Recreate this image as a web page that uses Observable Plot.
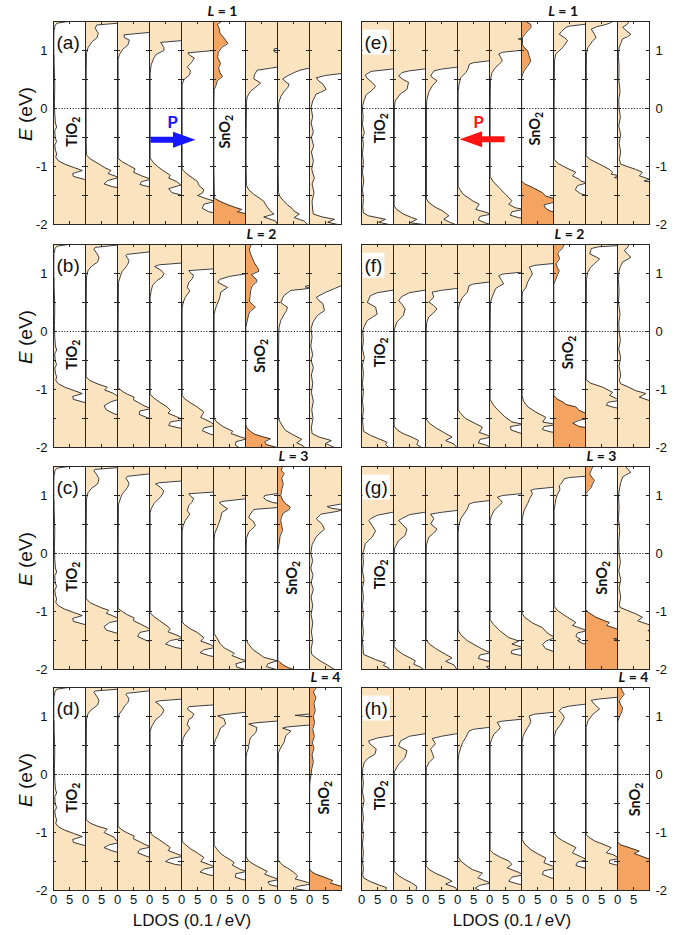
<!DOCTYPE html>
<html><head><meta charset="utf-8">
<script src="https://cdn.jsdelivr.net/npm/d3@7"></script>
<script src="https://cdn.jsdelivr.net/npm/@observablehq/plot@0.6"></script>
<style>
html,body{margin:0;padding:0;background:#fff;}
#root{position:relative;width:689px;height:935px;overflow:hidden;background:#fff;}
#root svg{position:absolute;}
</style></head><body><div id="root"></div>
<script>
// ---------- DATA: LDOS curves, each [E (eV), LDOS (0.1/eV)] ----------
const a1 = [[1.5,4.5],[1.47,1],[1.42,0.4],[1.2,0.2],[0.8,0.2],[0.4,0.4],[0.1,0.3],[-0.1,0.4],[-0.25,0.6],[-0.32,1],[-0.38,0.4],[-0.5,0.5],[-0.57,1],[-0.63,0.4],[-0.72,0.6],[-0.78,1],[-0.84,0.7],[-0.9,1.5],[-0.96,3.5],[-1.02,6.5],[-1.07,9],[-1.12,6],[-1.17,6.2],[-1.22,9.5],[-1.26,12],[-2,12]];
const a2 = [[1.5,12],[1.47,10],[1.44,3.5],[1.38,3],[1.3,4],[1.22,3.6],[1.15,2],[1.05,0.8],[0.95,0.3],[0.5,0.2],[0,0.2],[-0.5,0.2],[-0.8,0.3],[-0.87,1.5],[-0.95,4],[-1.02,6],[-1.07,8],[-1.12,7],[-1.19,10.5],[-1.24,7],[-1.3,5.8],[-1.35,8.5],[-1.38,12],[-2,12]];
const a3 = [[1.5,12],[1.32,12],[1.31,9.5],[1.27,2],[1.22,2.2],[1.18,3.7],[1.1,3.3],[1.02,1.6],[0.93,0.6],[0.85,0.2],[0,0.2],[-0.86,0.2],[-0.92,1.5],[-0.98,3.5],[-1.04,5.5],[-1.1,5],[-1.16,7.5],[-1.22,10.5],[-1.26,7.5],[-1.31,7],[-1.36,10.5],[-1.39,12],[-2,12]];
const a4 = [[1.5,12],[1.18,12],[1.17,10],[1.14,3.5],[1.05,4.5],[1.0,4.5],[0.93,2],[0.85,1.2],[0.75,0.5],[0.6,0.2],[0,0.2],[-0.85,0.2],[-0.92,1],[-1.0,2.5],[-1.08,4.5],[-1.15,6.5],[-1.2,6],[-1.26,8.5],[-1.32,9.8],[-1.38,6],[-1.45,7],[-1.5,10.5],[-1.53,12],[-2,12]];
const a5 = [[1.5,12],[1.01,12],[1.0,10],[0.96,2],[0.92,2.5],[0.87,4],[0.8,3.2],[0.72,1.8],[0.65,2.8],[0.58,2.5],[0.5,0.8],[0.42,0.2],[0,0.2],[-1.05,0.2],[-1.12,1.5],[-1.2,3.5],[-1.26,5],[-1.33,5.5],[-1.4,7],[-1.46,6.5],[-1.5,5],[-1.56,8],[-1.6,10.5],[-1.65,7],[-1.72,6.5],[-1.78,8.5],[-1.82,12],[-2,12]];
const a6 = [[1.5,2.5],[1.45,1.2],[1.38,1.8],[1.3,2],[1.2,3.5],[1.12,4.5],[1.05,2.5],[0.97,1.5],[0.88,1.3],[0.78,2.2],[0.7,1.6],[0.62,2],[0.55,2.8],[0.48,1.2],[0.4,0.8],[0.33,0.2],[0,0.1],[-1.0,0.1],[-1.55,0.3],[-1.6,2],[-1.66,4.5],[-1.71,7],[-1.74,8.8],[-1.78,7.5],[-1.82,10.5],[-1.85,12],[-2,12]];
const a7 = [[1.5,12],[1.05,12],[1.03,9],[1.0,8.8],[0.97,9.2],[0.95,12],[0.72,12],[0.71,9.5],[0.66,3.6],[0.58,2.8],[0.51,2.6],[0.44,4.7],[0.36,3],[0.3,1.6],[0.2,0.5],[0.1,0.3],[0,0.3],[-0.5,0.2],[-1.0,0.2],[-1.33,0.3],[-1.4,1],[-1.48,2.6],[-1.55,4.5],[-1.6,5.7],[-1.7,6.8],[-1.78,8],[-1.82,8.9],[-1.87,5.7],[-1.94,9.4],[-2,10]];
const a8 = [[1.5,12],[0.7,12],[0.69,9.3],[0.66,7],[0.62,5.2],[0.56,3],[0.51,1.6],[0.46,2.5],[0.42,3.6],[0.36,3.2],[0.3,2.1],[0.2,1],[0.1,0.4],[0,0.3],[-1.0,0.2],[-1.45,0.3],[-1.52,0.8],[-1.6,2],[-1.66,3.1],[-1.72,4.5],[-1.77,5.2],[-1.82,6.8],[-1.88,5.2],[-1.94,8.3],[-2,9.4]];
const a9 = [[1.5,12],[0.62,12],[0.6,9.5],[0.57,5],[0.53,2.1],[0.47,3],[0.42,4.2],[0.33,5.2],[0.28,3.5],[0.25,2.1],[0.13,1],[0.02,0.5],[-0.15,1],[-0.25,0.5],[-0.4,1.2],[-0.5,0.6],[-0.65,1.3],[-0.75,0.6],[-0.9,1.2],[-1.05,0.7],[-1.2,1.5],[-1.3,0.8],[-1.45,1.4],[-1.6,0.8],[-1.75,1],[-1.82,1.2],[-1.87,4],[-1.91,7.8],[-1.96,5.7],[-2,8.8]];

const b1 = a1;
const b2 = [[1.5,12],[1.49,10],[1.45,3],[1.42,2.6],[1.35,3.5],[1.28,4.2],[1.2,3.8],[1.12,1.8],[1.05,0.8],[0.94,0.3],[0,0.2],[-0.78,0.2],[-0.84,1.2],[-0.9,3.6],[-0.96,6.8],[-1.01,6],[-1.06,8.5],[-1.1,9.6],[-1.16,11],[-1.21,8],[-1.28,5.8],[-1.35,6.5],[-1.42,9],[-1.46,12],[-2,12]];
const b3 = [[1.5,12],[1.38,12],[1.37,9.5],[1.33,3],[1.31,2.6],[1.26,3.2],[1.22,3.6],[1.16,3.2],[1.11,2.6],[1.04,1.5],[0.97,1],[0.85,0.3],[0,0.2],[-0.97,0.2],[-1.03,1.5],[-1.08,3],[-1.13,5.2],[-1.18,5],[-1.24,7],[-1.28,8.3],[-1.33,10.5],[-1.37,7],[-1.43,6.8],[-1.49,9.5],[-1.53,12],[-2,12]];
const b4 = [[1.5,12],[1.19,12],[1.18,10],[1.15,3],[1.12,1.6],[1.06,3.5],[1.0,4.5],[0.94,4],[0.88,2.4],[0.8,1],[0.7,0.5],[0.59,0.2],[0,0.2],[-1.08,0.2],[-1.14,1.2],[-1.22,3.2],[-1.3,5.5],[-1.36,6.5],[-1.41,5.8],[-1.47,8.5],[-1.52,10.5],[-1.56,6.5],[-1.62,6],[-1.66,9],[-1.69,12],[-2,12]];
const b5 = [[1.5,12],[1.09,12],[1.08,10],[1.05,2.3],[1.0,3],[0.97,3.8],[0.9,3.2],[0.85,2.3],[0.76,1.8],[0.7,2.6],[0.59,1.2],[0.5,0.5],[0.4,0.2],[0,0.2],[-1.1,0.2],[-1.16,1],[-1.23,2.8],[-1.3,4.9],[-1.39,7],[-1.48,6],[-1.56,9],[-1.62,10.5],[-1.66,7],[-1.71,6.5],[-1.77,9],[-1.81,12],[-2,12]];
const b6 = [[1.5,12],[1.01,12],[0.99,9.5],[0.95,5],[0.9,2],[0.85,1.3],[0.8,3],[0.76,4.4],[0.68,2.3],[0.6,2],[0.56,1.8],[0.45,1],[0.39,0.6],[0.3,0.2],[0,0.2],[-1.5,0.2],[-1.56,1],[-1.64,3],[-1.72,6],[-1.76,5.5],[-1.82,8.5],[-1.85,10.5],[-1.9,7],[-1.96,6.8],[-2,8]];
const b7 = [[1.5,1.8],[1.42,1.2],[1.35,1.5],[1.27,2.1],[1.18,2.8],[1.1,3.8],[1.04,4.2],[0.98,1.8],[0.9,3.4],[0.86,3.6],[0.78,2],[0.7,1.6],[0.6,1.4],[0.52,1.2],[0.45,2.5],[0.42,3.1],[0.35,1.5],[0.3,1],[0.2,0.6],[0.07,0.1],[-1.6,0.1],[-1.66,0.4],[-1.72,1.5],[-1.77,2.8],[-1.82,5.7],[-1.85,7.8],[-1.9,6],[-1.95,6.5],[-2,9.9]];
const b8 = [[1.5,12],[0.8,12],[0.79,9.2],[0.77,8.6],[0.75,10.5],[0.73,8],[0.71,4.2],[0.62,2],[0.5,1],[0.45,2.2],[0.42,3.1],[0.36,2.8],[0.3,2.1],[0.19,1],[0.07,0.5],[0,0.4],[-0.5,0.3],[-1.0,0.3],[-1.5,0.3],[-1.56,0.8],[-1.65,1.8],[-1.71,2.6],[-1.79,5.2],[-1.86,7.6],[-1.92,6],[-1.97,8],[-2,8.5]];
const b9 = [[1.5,12],[0.81,12],[0.79,9.9],[0.74,7.8],[0.68,5.2],[0.59,2.1],[0.53,3],[0.48,4.2],[0.4,4.5],[0.36,4.7],[0.3,3],[0.25,2.1],[0.15,1],[0.05,0.5],[-0.1,0.8],[-0.25,0.4],[-0.4,1],[-0.5,0.5],[-0.62,1.2],[-0.75,0.6],[-0.9,1],[-1.05,0.6],[-1.2,1.2],[-1.35,0.7],[-1.5,1.1],[-1.65,0.6],[-1.76,0.8],[-1.82,3],[-1.88,6.8],[-1.93,5],[-2,7.8]];

const c1 = a1;
const c2 = [[1.5,12],[1.48,10],[1.45,3],[1.43,2.6],[1.36,3.5],[1.29,4.2],[1.2,3.8],[1.12,1.8],[1.05,0.8],[0.94,0.3],[0,0.2],[-0.78,0.2],[-0.85,1.5],[-0.93,4.7],[-0.98,7.3],[-1.03,6.5],[-1.1,9.6],[-1.15,11],[-1.19,7.5],[-1.26,5.8],[-1.32,6.5],[-1.37,9.5],[-1.4,12],[-2,12]];
const c3 = [[1.5,12],[1.38,12],[1.37,9.5],[1.33,3],[1.3,2.6],[1.25,3.2],[1.21,3.6],[1.15,3.2],[1.1,2.6],[1.03,1.5],[0.96,1],[0.85,0.3],[0,0.2],[-0.95,0.2],[-1.0,1.5],[-1.06,3.2],[-1.11,5.2],[-1.16,5],[-1.22,7.3],[-1.28,9.4],[-1.32,10.5],[-1.36,7],[-1.43,6.3],[-1.5,9],[-1.54,12],[-2,12]];
const c4 = [[1.5,12],[1.26,12],[1.25,10],[1.22,3],[1.2,1.9],[1.14,3.4],[1.08,4.5],[1.02,4],[0.97,3.4],[0.9,2],[0.86,1.4],[0.78,0.6],[0.7,0.2],[0,0.2],[-1.02,0.2],[-1.08,1.2],[-1.16,3.2],[-1.25,5.5],[-1.3,6.5],[-1.35,5.8],[-1.41,8.6],[-1.46,10.5],[-1.5,6.5],[-1.56,5],[-1.62,8],[-1.66,12],[-2,12]];
const c5 = [[1.5,12],[1.07,12],[1.06,10],[1.03,2.3],[0.98,3],[0.95,3.8],[0.88,3.2],[0.83,2.3],[0.74,1.8],[0.68,2.6],[0.57,1.2],[0.48,0.5],[0.38,0.2],[0,0.2],[-1.18,0.2],[-1.23,1],[-1.3,2.8],[-1.36,4.9],[-1.45,7],[-1.51,6],[-1.57,9],[-1.62,10.5],[-1.66,7],[-1.71,5.8],[-1.76,8.5],[-1.8,12],[-2,12]];
const c6 = [[1.5,12],[0.95,12],[0.94,9.5],[0.9,3],[0.88,1.8],[0.82,3],[0.77,4.4],[0.7,2.5],[0.6,2.2],[0.5,1.5],[0.45,1.2],[0.35,0.4],[0.25,0.2],[0,0.2],[-1.38,0.2],[-1.45,1],[-1.55,2],[-1.63,3.4],[-1.72,6.5],[-1.76,5.8],[-1.82,8.5],[-1.85,10.5],[-1.9,7],[-1.96,7.3],[-2,10]];
const c7 = [[1.5,12],[1.04,12],[1.03,9.5],[1.0,6],[0.96,5.7],[0.92,6.5],[0.88,8.5],[0.86,10.5],[0.82,12],[0.79,9.5],[0.76,2.6],[0.68,1.5],[0.62,1],[0.55,2.5],[0.48,3.1],[0.42,2],[0.37,1],[0.26,0.3],[0,0.2],[-1.48,0.2],[-1.55,0.8],[-1.62,1.8],[-1.67,2.6],[-1.74,4.5],[-1.79,5.7],[-1.85,9.9],[-1.9,7],[-1.95,6.5],[-2,9.5]];
const c8 = [[1.5,1.5],[1.43,1.2],[1.38,2.1],[1.3,1.3],[1.2,1.8],[1.1,1.3],[1.0,1],[0.92,1.6],[0.86,2.5],[0.8,4],[0.75,3.5],[0.7,1.8],[0.62,1.2],[0.57,1],[0.48,1.3],[0.4,1.6],[0.3,0.8],[0.2,0.6],[0.05,0.1],[-1.84,0.1],[-1.88,0.8],[-1.93,2],[-1.97,3.5],[-2,5]];
const c9 = [[1.5,12],[0.86,12],[0.85,9.5],[0.81,5.5],[0.78,6.8],[0.75,10.5],[0.72,8],[0.68,3.6],[0.6,2.1],[0.5,4],[0.42,4.7],[0.34,3],[0.28,2],[0.15,0.8],[0,0.4],[-0.12,1],[-0.25,0.4],[-0.38,1.1],[-0.5,0.5],[-0.62,1.2],[-0.75,0.5],[-0.9,1],[-1.05,0.5],[-1.2,1],[-1.35,0.6],[-1.5,1],[-1.65,0.5],[-1.74,0.7],[-1.8,2],[-1.86,3.6],[-1.92,5.5],[-2,7.8]];

const d1 = a1;
const d2 = [[1.5,12],[1.47,10],[1.44,3],[1.42,2.6],[1.35,3.5],[1.28,4.2],[1.2,3.8],[1.1,1.5],[1.04,0.7],[0.94,0.3],[0,0.2],[-0.78,0.2],[-0.84,1.5],[-0.89,3.7],[-0.94,6.8],[-1.0,5.8],[-1.08,8.9],[-1.13,9.5],[-1.17,11],[-1.21,7.5],[-1.26,5.8],[-1.31,8],[-1.35,10.5],[-1.38,12],[-2,12]];
const d3a = [[1.5,12],[1.45,12],[1.44,9.5],[1.4,3],[1.38,2.6],[1.34,3.2],[1.3,3.6],[1.24,3.2],[1.18,2.2],[1.12,1.6],[1.04,0.5],[0.95,0.2],[0,0.2],[-0.9,0.2],[-0.96,1.5],[-1.01,3.2],[-1.06,5.2],[-1.11,5],[-1.16,7],[-1.2,8.3],[-1.25,10.5],[-1.29,7],[-1.35,6.3],[-1.41,9],[-1.46,12],[-2,12]];
const d4 = [[1.5,12],[1.31,12],[1.3,10],[1.27,3],[1.25,1.9],[1.19,3.4],[1.11,4.5],[1.05,4],[1.01,3.4],[0.95,2],[0.9,1.4],[0.82,0.6],[0.74,0.2],[0,0.2],[-1.0,0.2],[-1.06,1.2],[-1.13,3.2],[-1.2,5],[-1.26,6.5],[-1.31,5.8],[-1.37,8.6],[-1.41,10.5],[-1.45,6.5],[-1.5,5],[-1.55,8],[-1.58,12],[-2,12]];
const d5 = [[1.5,12],[1.21,12],[1.2,10],[1.17,2.3],[1.13,1.8],[1.08,3],[1.04,3.9],[0.98,3.2],[0.95,2.3],[0.86,1.8],[0.8,2.6],[0.7,1.2],[0.62,0.5],[0.52,0.2],[0,0.2],[-1.15,0.2],[-1.2,1],[-1.28,2.8],[-1.35,4.9],[-1.43,7],[-1.5,6],[-1.56,9],[-1.59,10.5],[-1.63,7],[-1.68,5.8],[-1.73,8.5],[-1.76,12],[-2,12]];
const d6 = [[1.5,12],[1.08,12],[1.07,9.5],[1.03,3],[1.01,1.3],[0.96,3.3],[0.87,3.8],[0.8,2.2],[0.72,1.6],[0.67,1.3],[0.6,0.6],[0.52,0.2],[0,0.2],[-1.22,0.2],[-1.28,1],[-1.35,2],[-1.41,3.4],[-1.48,5.5],[-1.52,6.5],[-1.56,5.8],[-1.64,8.5],[-1.67,10.5],[-1.71,7],[-1.77,6.8],[-1.81,9],[-1.84,12],[-2,12]];
const d7 = [[1.5,12],[0.93,12],[0.92,9.5],[0.89,3],[0.87,1],[0.83,2.8],[0.81,3.6],[0.72,3.2],[0.65,1.8],[0.61,1.4],[0.5,1],[0.46,1],[0.38,0.4],[0.3,0.2],[0,0.2],[-1.42,0.2],[-1.48,0.8],[-1.53,2],[-1.58,3.6],[-1.67,6.8],[-1.72,6],[-1.78,8.9],[-1.81,10.5],[-1.85,7],[-1.9,7.5],[-1.93,10],[-1.96,12],[-2,12]];
const d8 = [[1.5,12],[1.05,12],[1.04,9.5],[1.02,5.5],[1.0,9],[0.98,12],[0.86,12],[0.85,9.5],[0.82,3],[0.8,1.6],[0.75,4.2],[0.67,2.6],[0.55,2],[0.46,1],[0.38,0.3],[0,0.2],[-1.47,0.2],[-1.53,1],[-1.58,2],[-1.61,3.1],[-1.69,5.2],[-1.75,6.3],[-1.8,5.5],[-1.86,9.4],[-1.89,10.5],[-1.93,6],[-1.97,5.5],[-2,9]];
const d9 = [[1.5,2.2],[1.42,1.2],[1.33,2],[1.22,1.4],[1.1,1.8],[1.0,1.2],[0.9,1.6],[0.78,1],[0.66,1.5],[0.55,0.9],[0.45,1.4],[0.34,0.8],[0.22,1.2],[0.1,0.7],[0,0.5],[-0.1,0.2],[-0.2,0.05],[-1.62,0.05],[-1.67,0.5],[-1.72,2],[-1.75,3.6],[-1.8,6],[-1.83,7.3],[-1.87,6.5],[-1.92,9.4],[-1.95,12],[-2,12]];

const e1 = [[1.5,12],[0.7,12],[0.68,9.5],[0.64,3],[0.58,1.2],[0.52,1.8],[0.44,3.5],[0.38,4.4],[0.3,3],[0.24,1.5],[0.14,0.8],[0.05,0.4],[0,0.3],[-0.15,0.5],[-0.28,0.3],[-0.42,0.9],[-0.5,0.3],[-0.62,0.6],[-0.78,0.3],[-0.92,0.6],[-1.1,0.3],[-1.25,0.7],[-1.4,0.3],[-1.55,0.6],[-1.7,0.4],[-1.8,0.6],[-1.85,2.2],[-1.91,7.5],[-1.96,5.4],[-2,8.5]];
const e2 = [[1.5,12],[0.7,12],[0.68,9.5],[0.65,5],[0.62,2.6],[0.56,1.6],[0.5,3],[0.45,4.7],[0.33,4.2],[0.25,2.1],[0.13,0.5],[0.02,0.3],[-1.0,0.2],[-1.68,0.2],[-1.74,1],[-1.82,3.1],[-1.88,5.7],[-1.91,7.3],[-1.97,5.2],[-2,9.4]];
const e3 = [[1.5,12],[0.73,12],[0.71,9.4],[0.68,5],[0.65,2.6],[0.56,1.6],[0.52,2.5],[0.48,3.6],[0.39,2.1],[0.28,1],[0.14,0.4],[0,0.3],[-1.56,0.3],[-1.62,1],[-1.7,3],[-1.76,5.2],[-1.85,7.3],[-1.91,5.7],[-1.96,7.5],[-2,9.4]];
const e4 = [[1.5,12],[0.84,12],[0.82,9.5],[0.79,5],[0.76,3.6],[0.7,3.4],[0.62,2.6],[0.53,1],[0.42,0.5],[0.3,0.2],[0,0.2],[-1.34,0.2],[-1.4,0.8],[-1.48,1.8],[-1.59,4.7],[-1.65,6.8],[-1.74,5.7],[-1.79,8.9],[-1.82,10.5],[-1.86,7],[-1.92,6.5],[-1.97,8.5],[-2,10.5]];
const e5 = [[1.5,12],[1.22,12],[1.2,9],[1.17,12],[1.02,12],[1.0,9.5],[0.97,4],[0.94,2.9],[0.88,3.5],[0.82,4],[0.76,3],[0.71,1.9],[0.62,0.8],[0.5,0.3],[0,0.2],[-1.17,0.2],[-1.25,1],[-1.36,2.9],[-1.48,5],[-1.59,7],[-1.65,6],[-1.71,8],[-1.74,10.5],[-1.78,7],[-1.84,6.5],[-1.88,9],[-1.91,12],[-2,12]];
const e6 = [[1.5,1.4],[1.45,2.9],[1.4,3],[1.34,2],[1.28,1],[1.22,0.3],[1.1,0.3],[1.05,0.8],[1.0,1.9],[0.92,2.3],[0.82,2.9],[0.74,2],[0.65,0.8],[0.58,0.3],[0.53,0.05],[-1.25,0.05],[-1.3,1],[-1.36,3.4],[-1.45,6.5],[-1.51,7.6],[-1.56,10.5],[-1.62,10],[-1.66,7],[-1.72,7.5],[-1.77,9],[-1.8,12],[-2,12]];
const e7 = [[1.5,12],[1.47,12],[1.45,9.5],[1.42,5],[1.4,3.9],[1.33,2.5],[1.28,1.8],[1.22,3.5],[1.17,4.4],[1.1,3.5],[1.05,2.8],[0.98,1.5],[0.94,0.7],[0.82,0.3],[0,0.2],[-0.88,0.2],[-0.95,1.5],[-1.02,3.9],[-1.1,7],[-1.16,5.9],[-1.22,8],[-1.25,8.5],[-1.28,10.5],[-1.33,7.5],[-1.4,6.8],[-1.47,8.5],[-1.52,12],[-2,12]];
const e8 = [[1.5,8.5],[1.47,7.5],[1.45,6.4],[1.41,3.5],[1.37,1.8],[1.28,2.8],[1.22,3.3],[1.17,2.3],[1.1,1.4],[1.05,0.7],[0.94,0.3],[0,0.2],[-0.82,0.2],[-0.88,1.5],[-0.96,4.4],[-1.05,7.5],[-1.1,8.5],[-1.13,8],[-1.16,10.5],[-1.19,9],[-1.22,12],[-2,12]];
const e9 = [[1.5,3.6],[1.45,3],[1.4,1.6],[1.33,3],[1.28,4.2],[1.24,3.2],[1.2,1.6],[1.12,1],[1.05,0.5],[0.9,0.3],[0.7,0.5],[0.5,0.4],[0.3,0.8],[0.15,0.4],[0,0.5],[-0.15,0.9],[-0.3,0.4],[-0.45,1],[-0.6,0.5],[-0.75,1],[-0.88,0.6],[-0.96,1],[-1.0,3],[-1.05,5.7],[-1.1,7.8],[-1.16,6.8],[-1.22,10],[-1.25,8.3],[-1.28,12],[-2,12]];

const f1 = [[1.5,12],[0.72,12],[0.71,9.5],[0.67,5],[0.62,2.8],[0.56,2.3],[0.5,1.8],[0.42,4.4],[0.3,4.9],[0.25,3.5],[0.19,1.8],[0.07,0.7],[0,0.4],[-0.15,0.6],[-0.3,0.3],[-0.45,0.9],[-0.58,0.3],[-0.72,0.6],[-0.9,0.3],[-1.05,0.6],[-1.2,0.3],[-1.35,0.6],[-1.5,0.3],[-1.65,0.5],[-1.72,0.6],[-1.79,2.8],[-1.85,5.4],[-1.91,8],[-1.95,7.5],[-2,8.5]];
const f2 = [[1.5,12],[0.72,12],[0.71,9.5],[0.67,5],[0.6,2.5],[0.53,1.6],[0.46,2.8],[0.39,3.6],[0.28,3.1],[0.16,1],[0.04,0.3],[0,0.2],[-1.63,0.2],[-1.7,1.2],[-1.76,3],[-1.82,5.7],[-1.88,7.8],[-1.95,7.3],[-2,8.8]];
const f3 = [[1.5,12],[0.75,12],[0.74,9.4],[0.71,5],[0.68,2.1],[0.59,2.6],[0.51,1],[0.45,2.5],[0.39,3.6],[0.32,2.5],[0.25,1],[0.16,0.4],[0,0.2],[-1.51,0.2],[-1.58,1.2],[-1.66,3.2],[-1.76,6.3],[-1.82,8.3],[-1.88,6.3],[-1.94,8.9],[-2,9.8]];
const f4 = [[1.5,12],[0.86,12],[0.85,9.5],[0.82,5],[0.79,3.6],[0.68,3.1],[0.59,1.6],[0.48,0.6],[0.36,0.2],[0,0.2],[-1.34,0.2],[-1.4,0.8],[-1.5,2.5],[-1.59,5.7],[-1.65,7.8],[-1.74,6.8],[-1.79,9.4],[-1.82,10.5],[-1.86,7],[-1.92,6.5],[-1.96,9],[-2,10.5]];
const f5 = [[1.5,12],[1.03,12],[1.02,9.5],[0.99,4],[0.96,2.9],[0.88,3.8],[0.82,4.4],[0.78,3],[0.74,1.9],[0.59,0.8],[0.5,0.3],[0,0.2],[-1.17,0.2],[-1.25,1],[-1.35,2.5],[-1.48,5],[-1.56,7],[-1.6,10.5],[-1.64,6.5],[-1.7,6.8],[-1.75,9.5],[-1.79,12],[-2,12]];
const f6 = [[1.5,12],[1.18,12],[1.17,9.5],[1.14,4],[1.11,2.4],[1.05,3],[0.99,3.4],[0.92,2.6],[0.85,1.9],[0.76,1.4],[0.68,0.3],[0.6,0.2],[0,0.2],[-1.1,0.2],[-1.2,0.6],[-1.3,2],[-1.39,4.5],[-1.48,7.6],[-1.56,6.6],[-1.59,9.7],[-1.61,10.5],[-1.64,7],[-1.69,6.5],[-1.73,9],[-1.75,12],[-2,12]];
const f7 = [[1.5,3.4],[1.44,2.8],[1.38,1.8],[1.34,1.3],[1.28,1.8],[1.24,1.8],[1.17,0.8],[1.1,1.2],[1.05,1.8],[0.98,1.3],[0.91,0.8],[0.82,0.1],[-1.1,0.1],[-1.16,1],[-1.22,3],[-1.26,4],[-1.3,7],[-1.36,8],[-1.42,10.5],[-1.5,11],[-1.53,8],[-1.58,6],[-1.64,8],[-1.67,12],[-2,12]];
const f8 = [[1.5,12],[1.48,10],[1.46,4],[1.43,1.8],[1.34,1.3],[1.28,3.5],[1.25,4.4],[1.17,2.8],[1.1,1.5],[1.02,0.7],[0.9,0.3],[0,0.2],[-0.83,0.2],[-0.89,1.5],[-0.96,5.4],[-1.05,8.5],[-1.1,7.5],[-1.16,9.8],[-1.19,10.5],[-1.22,7],[-1.27,6.5],[-1.31,9],[-1.34,12],[-2,12]];
const f9 = [[1.5,3.6],[1.44,3],[1.4,2.1],[1.33,3.2],[1.28,4.2],[1.24,3],[1.2,1.6],[1.12,0.9],[1.05,0.5],[0.9,0.3],[0.7,0.5],[0.5,0.3],[0.3,0.8],[0.15,0.4],[0,0.5],[-0.15,0.9],[-0.3,0.4],[-0.45,1],[-0.6,0.5],[-0.75,1],[-0.85,0.6],[-0.9,1],[-0.96,3.5],[-1.02,5.7],[-1.07,8.9],[-1.13,6.8],[-1.19,9.9],[-1.22,12],[-2,12]];

const g1 = [[1.5,12],[0.72,12],[0.71,9.5],[0.66,5],[0.6,2.8],[0.57,2.3],[0.48,3.3],[0.39,4.4],[0.28,3.3],[0.17,1.2],[0.05,0.7],[0,0.4],[-0.15,0.6],[-0.3,0.3],[-0.45,0.8],[-0.6,0.3],[-0.75,0.6],[-0.9,0.3],[-1.05,0.6],[-1.2,0.3],[-1.35,0.6],[-1.5,0.3],[-1.65,0.5],[-1.74,0.6],[-1.83,4.4],[-1.89,7.5],[-1.93,6.8],[-1.97,8.5],[-2,8.5]];
const g2 = [[1.5,12],[0.72,12],[0.71,9.5],[0.67,5],[0.6,2.5],[0.57,1.6],[0.5,2.8],[0.42,4.2],[0.31,3.6],[0.22,1.6],[0.1,0.4],[0,0.2],[-1.6,0.2],[-1.67,1.2],[-1.74,3],[-1.8,5.2],[-1.85,6.8],[-1.91,6.3],[-1.96,8.5],[-2,9.4]];
const g3 = [[1.5,12],[0.75,12],[0.74,9.4],[0.71,5],[0.68,1.6],[0.6,2.6],[0.51,1.6],[0.42,3.6],[0.35,2.5],[0.28,1],[0.15,0.3],[0,0.2],[-1.49,0.2],[-1.56,1.2],[-1.64,3.2],[-1.74,6.3],[-1.8,8.3],[-1.86,6.3],[-1.92,8.9],[-2,9.8]];
const g4 = [[1.5,12],[0.92,12],[0.91,9.5],[0.88,5],[0.85,3.6],[0.77,3.1],[0.68,2],[0.6,1],[0.48,0.4],[0.36,0.2],[0,0.2],[-1.32,0.2],[-1.4,1],[-1.5,3],[-1.58,5.5],[-1.62,6.8],[-1.68,8.9],[-1.71,10.5],[-1.75,7],[-1.81,6.5],[-1.85,9],[-1.88,12],[-1.92,12],[-1.95,9],[-2,10]];
const g5 = [[1.5,12],[1.04,12],[1.03,9.5],[1.0,4],[0.97,2.4],[0.92,3.5],[0.88,4],[0.8,2.5],[0.74,1.4],[0.65,0.6],[0.57,0.2],[0,0.2],[-1.14,0.2],[-1.22,1.2],[-1.33,3.2],[-1.45,6],[-1.51,9.2],[-1.56,7],[-1.61,9.8],[-1.63,10.5],[-1.67,7],[-1.72,6.8],[-1.75,9],[-1.77,12],[-2,12]];
const g6 = [[1.5,12],[1.15,12],[1.14,9.5],[1.11,4],[1.09,2.9],[1.03,3.4],[0.95,2.6],[0.86,1.9],[0.74,0.8],[0.62,0.3],[0.57,0.2],[0,0.2],[-1.03,0.2],[-1.1,1],[-1.2,3.5],[-1.28,6.6],[-1.34,7.5],[-1.39,8.6],[-1.45,10.5],[-1.51,7.6],[-1.57,6.6],[-1.64,7.5],[-1.69,10],[-1.71,12],[-2,12]];
const g7 = [[1.5,12],[1.34,12],[1.33,9.5],[1.31,5],[1.29,3.4],[1.22,2.6],[1.17,1.8],[1.1,2],[1.03,1.3],[0.95,0.8],[0.86,0.5],[0.75,0.2],[0,0.2],[-0.91,0.2],[-0.98,1.2],[-1.05,3],[-1.1,4.4],[-1.19,7],[-1.24,5.9],[-1.3,9],[-1.33,10.5],[-1.37,7.5],[-1.43,7],[-1.48,8.5],[-1.5,7.5],[-1.55,9],[-1.59,12],[-2,12]];
const g8 = [[1.5,2.3],[1.44,1.8],[1.37,1.3],[1.3,2.2],[1.26,2.8],[1.2,2.2],[1.14,1.8],[1.08,0.8],[1.03,0.1],[-0.97,0.1],[-1.02,1],[-1.1,3.3],[-1.15,5.5],[-1.19,7.5],[-1.24,6.5],[-1.3,9.8],[-1.33,12],[-1.45,12],[-1.47,8.8],[-1.5,12],[-2,12]];
const g9 = [[1.5,2.6],[1.45,3.2],[1.4,4.2],[1.35,2.5],[1.32,1.6],[1.22,1],[1.14,0.7],[1.0,0.3],[0.8,0.5],[0.6,0.3],[0.4,0.7],[0.2,0.4],[0,0.5],[-0.15,0.9],[-0.3,0.4],[-0.45,1],[-0.6,0.5],[-0.75,1],[-0.88,0.6],[-0.93,0.8],[-0.98,3],[-1.04,5.7],[-1.1,7.8],[-1.16,6.3],[-1.22,9.4],[-1.26,12],[-1.3,12],[-1.33,9.5],[-1.36,12],[-2,12]];

const h1 = [[1.5,12],[0.69,12],[0.67,9.5],[0.63,5],[0.58,2.2],[0.53,2.6],[0.44,4.6],[0.35,4.2],[0.28,2],[0.2,0.8],[0.1,0.4],[0,0.3],[-0.15,0.6],[-0.3,0.3],[-0.45,0.8],[-0.6,0.3],[-0.75,0.6],[-0.9,0.3],[-1.05,0.6],[-1.2,0.3],[-1.35,0.6],[-1.5,0.3],[-1.62,0.6],[-1.72,0.4],[-1.78,0.6],[-1.84,2.5],[-1.9,5.2],[-1.95,7.8],[-2,7.5]];
const h2 = [[1.5,12],[0.72,12],[0.7,9.5],[0.66,5],[0.58,2.2],[0.49,1.6],[0.41,4.2],[0.29,3.6],[0.18,1.6],[0.05,0.3],[0,0.2],[-1.67,0.2],[-1.74,1.5],[-1.8,3.2],[-1.87,5.7],[-1.93,7.3],[-2,7]];
const h3 = [[1.5,12],[0.71,12],[0.7,9.4],[0.66,5],[0.62,2.1],[0.53,3.1],[0.44,1.6],[0.36,2.2],[0.29,2.6],[0.2,1],[0.12,0.3],[0,0.2],[-1.58,0.2],[-1.64,1.2],[-1.7,3],[-1.78,6.3],[-1.84,8.3],[-1.89,6.3],[-1.95,9.4],[-2,9.8]];
const h4 = [[1.5,12],[0.82,12],[0.81,9.5],[0.78,5],[0.75,3.6],[0.64,2.6],[0.55,1.6],[0.46,1],[0.35,0.4],[0.23,0.2],[0,0.2],[-1.42,0.2],[-1.5,1.2],[-1.58,3],[-1.64,4.7],[-1.7,7.8],[-1.78,6.3],[-1.84,8.9],[-1.87,10.5],[-1.91,7],[-1.96,5.5],[-2,7]];
const h5 = [[1.5,12],[0.96,12],[0.95,9.5],[0.92,4],[0.9,2.4],[0.81,3.4],[0.75,2.5],[0.7,1.4],[0.6,0.6],[0.52,0.2],[0,0.2],[-1.3,0.2],[-1.36,1.2],[-1.43,3.5],[-1.49,6],[-1.55,7],[-1.61,5.5],[-1.69,9.2],[-1.73,10.5],[-1.77,7],[-1.84,6],[-1.89,9],[-1.92,12],[-2,12]];
const h6 = [[1.5,12],[1.08,12],[1.07,9.5],[1.04,4],[1.01,2.4],[0.92,2.9],[0.86,2.5],[0.81,1.9],[0.72,1],[0.66,0.5],[0.55,0.2],[0,0.2],[-1.12,0.2],[-1.2,1],[-1.3,3],[-1.38,5.5],[-1.44,7.6],[-1.52,7],[-1.58,9.7],[-1.62,10.5],[-1.66,7],[-1.72,6.5],[-1.78,9],[-1.81,12],[-2,12]];
const h7 = [[1.5,12],[1.22,12],[1.21,9.5],[1.18,5],[1.15,2.8],[1.1,1.8],[1.04,2.8],[0.98,3.4],[0.87,2.3],[0.75,0.7],[0.64,0.2],[0,0.2],[-1.01,0.2],[-1.08,1.2],[-1.14,2.8],[-1.2,4.9],[-1.26,7],[-1.35,5.9],[-1.43,9],[-1.47,10.5],[-1.51,7.5],[-1.57,7],[-1.61,9.5],[-1.63,12],[-2,12]];
const h8 = [[1.5,12],[1.34,12],[1.33,9.5],[1.3,4],[1.28,1.8],[1.21,2.8],[1.13,4.4],[1.04,2.3],[0.92,0.7],[0.81,0.2],[0,0.2],[-1.04,0.2],[-1.1,1.5],[-1.15,3],[-1.2,5.4],[-1.26,8],[-1.35,6.5],[-1.38,8.5],[-1.42,9.8],[-1.45,10.5],[-1.48,7.5],[-1.53,7.5],[-1.56,9.5],[-1.58,12],[-2,12]];
const h9 = [[1.5,1],[1.44,1.5],[1.38,2.1],[1.32,1.2],[1.27,0.5],[1.2,1],[1.15,1.6],[1.08,1.3],[1.04,1],[0.98,0.5],[0.92,0.1],[-1.16,0.1],[-1.21,0.8],[-1.26,3.6],[-1.32,6.8],[-1.36,5.2],[-1.42,8],[-1.47,10.5],[-1.5,12],[-2,12]];

// panels
const panelIds = ["a","b","c","d","e","f","g","h"];
const panelCols = [
  [a1,a2,a3,a4,a5,a6,a7,a8,a9],[b1,b2,b3,b4,b5,b6,b7,b8,b9],
  [c1,c2,c3,c4,c5,c6,c7,c8,c9],[d1,d2,d3a,d4,d5,d6,d7,d8,d9],
  [e1,e2,e3,e4,e5,e6,e7,e8,e9],[f1,f2,f3,f4,f5,f6,f7,f8,f9],
  [g1,g2,g3,g4,g5,g6,g7,g8,g9],[h1,h2,h3,h4,h5,h6,h7,h8,h9]];
const snIndex = [5,6,7,8,5,6,7,8];
const Lvalues = [1,2,3,4,1,2,3,4];
const colIndex = [0,1,2,3,4,5,6,7,8];
const yTickLabels = [-2,-1,0,1];
const yTickMinor = [-2,-1.5,-1,-0.5,0,0.5,1,1.5];
const xTickLabels = [0,5];

// annotation placement (column, LDOS, E)
const Lpos = [[5,2.8],[6,5],[7,5],[8,5],[5,13],[6,5],[7,5],[8,5]];
const tioPos = [[5.9,-0.4],[5.9,-0.4],[5.9,-0.4],[5.9,-0.4],[5.9,-0.34],[5.9,-0.36],[5.9,-0.36],[5.9,-0.36]];
const snPos = [[3.8,-0.4],[4.7,-0.42],[4.7,-0.42],[4.7,-0.4],[4.4,-0.35],[4.7,-0.36],[5.2,-0.42],[5.6,-0.43]];
const arrows = {a: {col:4, v:-2.66, E:-0.54, rot:0, color:"#1616ff", pv:-2.8, pE:-0.25},
                e: {col:4, v:-2.3, E:-0.53, rot:180, color:"#ff1414", pv:-3.4, pE:-0.25}};

// ---------- STYLE / LAYOUT ----------
const PEACH = "#FAE3BE", ORANGE = "#F4A460", INK = "#262626";
const rowTops = [21, 244, 466, 687];
const FRAME_H = 203, COL_W = 32;
const root = document.getElementById("root");

const arrowSymbol = {draw(ctx) {
  ctx.moveTo(-22.5,-3); ctx.lineTo(0,-3); ctx.lineTo(0,-8); ctx.lineTo(22.5,0);
  ctx.lineTo(0,8); ctx.lineTo(0,3); ctx.lineTo(-22.5,3); ctx.closePath();
}};

panelIds.forEach((id, i) => {
  const right = i >= 4, row = i % 4, bottom = row === 3;
  const sn = snIndex[i];
  const rows = panelCols[i].flatMap((c, ci) => c.map(([E, v]) => ({col: ci, E, v})));
  const mL = right ? 4 : 53, mR = right ? 40 : 4, mT = 22, mB = bottom ? 40 : 4;
  const labels = [
    {col: 0, v: tioPos[i][0], E: tioPos[i][1], t: "TiO2"},
    {col: sn, v: snPos[i][0], E: snPos[i][1], t: "SnO2"}];
  const marks = [
    Plot.areaX(rows.filter(d => d.col !== sn), {fx: "col", y: "E", x: "v", fill: PEACH, clip: true}),
    Plot.areaX(rows.filter(d => d.col === sn), {fx: "col", y: "E", x: "v", fill: ORANGE, clip: true}),
    Plot.lineX(rows, {fx: "col", y: "E", x: "v", stroke: INK, strokeWidth: 0.9, clip: true}),
    Plot.ruleY([0], {stroke: INK, strokeWidth: 1, strokeDasharray: "1.2,1.6"}),
    Plot.tickY(yTickMinor, {insetRight: COL_W - 3, stroke: INK}),
    Plot.tickY(yTickMinor, {insetLeft: COL_W - 3, stroke: INK}),
    Plot.tickX(xTickLabels.slice(1), {insetBottom: FRAME_H - 3, stroke: INK}),
    Plot.tickX(xTickLabels.slice(1), {insetTop: FRAME_H - 3, stroke: INK}),
    Plot.frame({stroke: INK, strokeWidth: 1}),
    Plot.axisY(yTickLabels, {anchor: right ? "right" : "left", tickSize: 0, tickPadding: 6,
      tickFormat: d => String(d), label: null, fontSize: 13}),
    Plot.text(labels, {fx: "col", x: "v", y: "E", text: "t", rotate: -90, fontFamily: "Lato",
      fontWeight: "bold", fontSize: 14.5, fill: "#111"}),
    Plot.text([{col: Lpos[i][0], v: Lpos[i][1], t: `L = ${Lvalues[i]}`}], {fx: "col", x: "v", text: "t",
      frameAnchor: "top", dy: -10, lineAnchor: "middle", fontFamily: "Lato", fontWeight: "bold", fontSize: 14, fill: "#111"}),
    Plot.text([{col: 0, t: `(${id})`}], {fx: "col", text: "t", frameAnchor: "top-left", textAnchor: "start",
      lineAnchor: "middle", dx: 3, dy: 21, fontSize: 19, fontFamily: "Liberation Sans", fill: "#111"})
  ];
  if (bottom) marks.push(Plot.axisX(xTickLabels, {anchor: "bottom", tickSize: 0, tickPadding: 4, label: null, fontSize: 13}));
  const ar = arrows[id];
  if (ar) {
    marks.push(Plot.dot([ar], {fx: "col", x: "v", y: "E", symbol: arrowSymbol, r: 5, fill: ar.color, stroke: "none", rotate: ar.rot}));
    marks.push(Plot.text([ar], {fx: "col", x: "pv", y: "pE", text: () => "P", fill: ar.color, fontWeight: "bold",
      fontFamily: "Lato", fontSize: 17}));
  }
  const svg = Plot.plot({
    width: mL + 9 * COL_W + mR, height: mT + FRAME_H + mB,
    marginLeft: mL, marginRight: mR, marginTop: mT, marginBottom: mB,
    x: {domain: [0, 10], axis: null},
    y: {domain: [-2, 1.5], axis: null},
    fx: {domain: colIndex, padding: 0, axis: null},
    style: {background: "transparent", overflow: "visible", fontFamily: "Liberation Sans, Arial, sans-serif", fontSize: "13px", color: "#111"},
    marks
  });
  svg.style.position = "absolute";
  svg.style.left = (right ? 357 : 0) + "px";
  svg.style.top = (rowTops[row] - mT) + "px";
  root.appendChild(svg);
});

// overlay axis titles
const ov = d3.select(root).append("svg").attr("width", 689).attr("height", 935)
  .style("position", "absolute").style("left", 0).style("top", 0).style("pointer-events", "none")
  .attr("font-family", "Liberation Sans, Arial, sans-serif").attr("fill", "#111");
rowTops.forEach(t => {
  const tx = ov.append("text").attr("transform", `translate(25,${t + 93}) rotate(-90)`)
    .attr("text-anchor", "middle").attr("dy", "0.35em").attr("font-size", 19);
  tx.append("tspan").attr("font-style", "italic").text("E");
  tx.append("tspan").text(" (eV)");
});
[192, 512].forEach(cx => ov.append("text").attr("x", cx).attr("y", 926).attr("text-anchor", "middle")
  .attr("font-size", 17).text("LDOS (0.1\u2009/\u2009eV)"));

// text post-processing: italic L, subscripts, white label boxes
root.querySelectorAll("text").forEach(t => {
  const s = t.textContent;
  const sel = d3.select(t);
  if (/^L = \d$/.test(s)) {
    t.textContent = "";
    sel.append("tspan").attr("font-style", "italic").text("L");
    sel.append("tspan").text(s.slice(1));
  } else if (s === "TiO2" || s === "SnO2") {
    t.textContent = "";
    sel.append("tspan").text(s.slice(0, 3));
    sel.append("tspan").attr("font-size", "72%").attr("dy", "0.3em").text("2");
  } else if (/^\([a-h]\)$/.test(s)) {
    const b = t.getBBox();
    const r = document.createElementNS("http://www.w3.org/2000/svg", "rect");
    r.setAttribute("x", b.x - 2); r.setAttribute("y", b.y - 2);
    r.setAttribute("width", b.width + 4); r.setAttribute("height", b.height + 4);
    r.setAttribute("fill", "white");
    if (t.getAttribute("transform")) r.setAttribute("transform", t.getAttribute("transform"));
    t.parentNode.insertBefore(r, t);
  }
});
</script></body></html>
